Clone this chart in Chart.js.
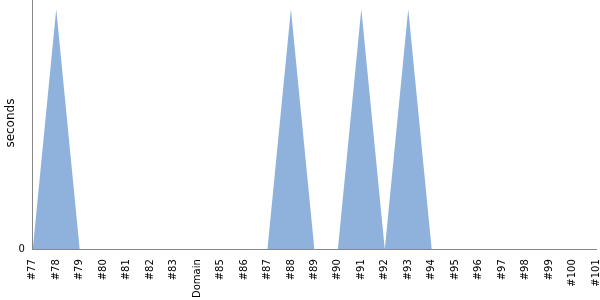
<!DOCTYPE html>
<html>
<head>
<meta charset="utf-8">
<script src="https://cdn.jsdelivr.net/npm/chart.js@4"></script>
<style>
  html, body { margin: 0; padding: 0; background: #fff; overflow: hidden; }
  #wrap { width: 610px; height: 309px; margin-top: -9px; }
</style>
</head>
<body>
<div id="wrap"><canvas id="chart"></canvas></div>
<script>
// categories along the x axis
const builds = ['#77', '#78', '#79', '#80', '#81', '#82', '#83', 'Domain', '#85', '#86',
  '#87', '#88', '#89', '#90', '#91', '#92', '#93', '#94', '#95', '#96',
  '#97', '#98', '#99', '#100', '#101'];
// duration per build (seconds)
const durations = [0, 1, 0, 0, 0, 0, 0, 0, 0, 0,
  0, 1, 0, 0, 1, 0, 1, 0, 0, 0,
  0, 0, 0, 0, 0];
const yTicks = [0];

Chart.defaults.font.family = 'DejaVu Sans';
Chart.defaults.color = '#000';

const ctx = document.getElementById('chart').getContext('2d');
new Chart(ctx, {
  type: 'line',
  data: {
    labels: builds,
    datasets: [{
      data: durations,
      fill: 'origin',
      backgroundColor: '#8fb2dc',
      borderWidth: 0,
      pointRadius: 0,
      tension: 0
    }]
  },
  options: {
    responsive: true,
    maintainAspectRatio: false,
    animation: false,
    layout: { padding: { top: 0, right: 0, left: 4, bottom: 0 } },
    plugins: {
      legend: { display: false },
      tooltip: { enabled: false }
    },
    scales: {
      x: {
        offset: false,
        grid: { display: false },
        border: { display: true, color: '#888' },
        ticks: {
          autoSkip: false,
          maxRotation: 90,
          minRotation: 90,
          padding: 2,
          font: { size: 10 }
        }
      },
      y: {
        min: 0,
        max: 1.05,
        grid: { display: false },
        border: { display: true, color: '#888' },
        afterBuildTicks: axis => { axis.ticks = yTicks.map(v => ({ value: v })); },
        ticks: { font: { size: 10 }, padding: 0 },
        title: { display: true, text: 'seconds', font: { size: 12 }, padding: 0 }
      }
    }
  }
});
</script>
</body>
</html>
